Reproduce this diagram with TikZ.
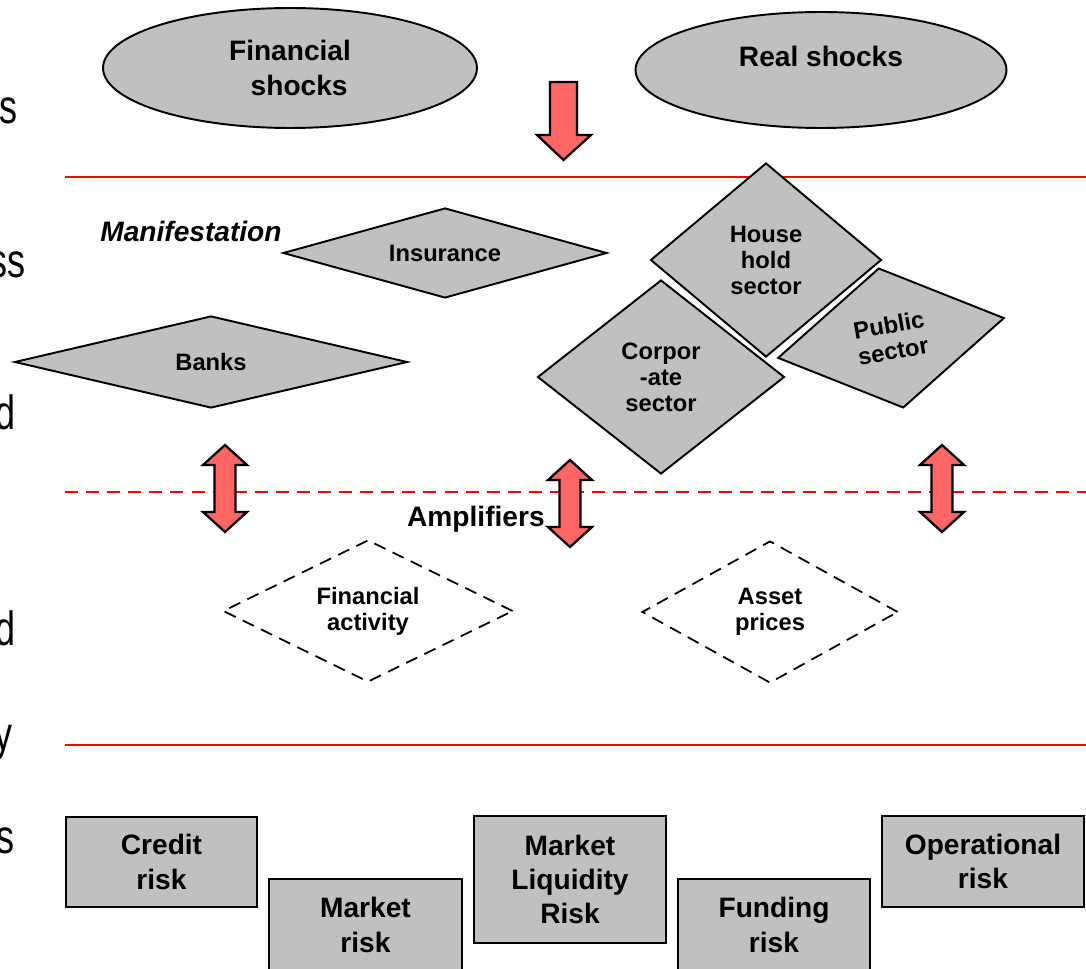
\documentclass[tikz,border=0pt]{standalone}
\usepackage{fontspec}
\setmainfont{Liberation Sans}
\usetikzlibrary{shapes.geometric}
\definecolor{boxgray}{HTML}{C0C0C0}
\definecolor{arrowred}{HTML}{FF6666}
\definecolor{linered}{HTML}{FF0000}

\tikzset{
  bigtext/.style={font=\fontsize{16}{19.5}\selectfont\bfseries, align=center},
  smalltext/.style={font=\fontsize{13.5}{14.8}\selectfont\bfseries, align=center},
  edgetext/.style={font=\fontsize{27.3}{30}\selectfont, anchor=base east, inner sep=0pt, xscale=0.75},
  shock/.style={ellipse, draw=black, line width=1.1pt, fill=boxgray, bigtext},
  sector/.style={diamond, draw=black, line width=1.1pt, fill=boxgray, smalltext, inner sep=1pt},
  amplifier/.style={diamond, draw=black, line width=1pt, dash pattern=on 7pt off 4.5pt, smalltext, inner sep=1pt},
  riskbox/.style={rectangle, draw=black, line width=1.4pt, fill=boxgray, bigtext},
  levelline/.style={draw=linered, line width=1.4pt},
  blockarrow/.style={draw=black, fill=arrowred, line width=1.3pt, line join=miter}
}

\begin{document}
\begin{tikzpicture}[x=0.02cm, y=-0.02cm]
\useasboundingbox (0,0) rectangle (1086,969);

% Words cut at the left edge
\node[edgetext] (edgeA) at (18,124) {s};
\node[edgetext] (edgeB) at (26,278) {ss};
\node[edgetext] (edgeC) at (16,430) {d};
\node[edgetext] (edgeD) at (16,645) {d};
\node[edgetext] (edgeE) at (13,750) {y};
\node[edgetext] (edgeF) at (15,853) {s};

% Level lines
\draw[levelline] (65,177) -- (1086,177);
\draw[levelline, dash pattern=on 7.4pt off 4.6pt] (65,492) -- (1086,492);
\draw[levelline] (65,745) -- (1086,745);

% Shocks
\node[shock, minimum width=7.48cm, minimum height=2.4cm] (finshock) at (290,68) {Financial\\\hspace{0.65em}shocks};
\node[shock, minimum width=7.42cm, minimum height=2.32cm, text depth=16pt] (realshock) at (821,70) {Real shocks};
\filldraw[blockarrow] (550,82) -- (577,82) -- (577,135) -- (591,135) -- (563.5,160) -- (537,135) -- (550,135) -- cycle;

% Manifestation
\node[font=\fontsize{16}{19.5}\selectfont\bfseries\itshape] (manif) at (191,231) {Manifestation};
\node[sector, minimum width=6.48cm, minimum height=1.8cm, aspect=3.6] (insurance) at (445,253) {Insurance};
\node[sector, minimum width=7.86cm, minimum height=1.84cm, aspect=4.27] (banks) at (211,362) {Banks};
\node[sector, minimum width=4.62cm, minimum height=3.88cm, aspect=1.19] (household) at (766,260) {House\\hold\\sector};
\node[sector, minimum width=4.94cm, minimum height=3.88cm, aspect=1.27] (corporate) at (661,377) {Corpor\\-ate\\sector};
\node[sector, minimum width=4.6cm, minimum height=2.84cm, aspect=1.62, rotate=10] (public) at (891,338) {Public\\sector};

% Amplifiers
\filldraw[blockarrow] (225,445) -- (247,465) -- (235.5,465) -- (235.5,512) -- (247,512) -- (225,532) -- (203,512) -- (214.5,512) -- (214.5,465) -- (203,465) -- cycle;
\filldraw[blockarrow] (570,460) -- (592,480) -- (580.5,480) -- (580.5,527) -- (592,527) -- (570,547) -- (548,527) -- (559.5,527) -- (559.5,480) -- (548,480) -- cycle;
\filldraw[blockarrow] (942,445) -- (964,465) -- (952.5,465) -- (952.5,512) -- (964,512) -- (942,532) -- (920,512) -- (931.5,512) -- (931.5,465) -- (920,465) -- cycle;
\node[font=\fontsize{16}{19.5}\selectfont\bfseries, anchor=base east, inner sep=0pt] (amplifiers) at (545,527) {Amplifiers};
\node[amplifier, minimum width=5.8cm, minimum height=2.84cm, aspect=2.04] (finactivity) at (368,611) {Financial\\activity};
\node[amplifier, minimum width=5.12cm, minimum height=2.84cm, aspect=1.8] (assetprices) at (770,612) {Asset\\prices};

% Risks
\node[riskbox, minimum width=3.82cm, minimum height=1.8cm] (credit) at (161.5,862) {Credit\\risk};
\node[riskbox, minimum width=3.86cm, minimum height=1.84cm] (market) at (365.5,925) {Market\\risk};
\node[riskbox, minimum width=3.84cm, minimum height=2.54cm] (liquidity) at (570,879.5) {Market\\Liquidity\\Risk};
\node[riskbox, minimum width=3.84cm, minimum height=1.84cm] (funding) at (774,925) {Funding\\risk};
\node[riskbox, minimum width=4.04cm, minimum height=1.82cm] (operational) at (983,861.5) {Operational\\risk};

\end{tikzpicture}
\end{document}
